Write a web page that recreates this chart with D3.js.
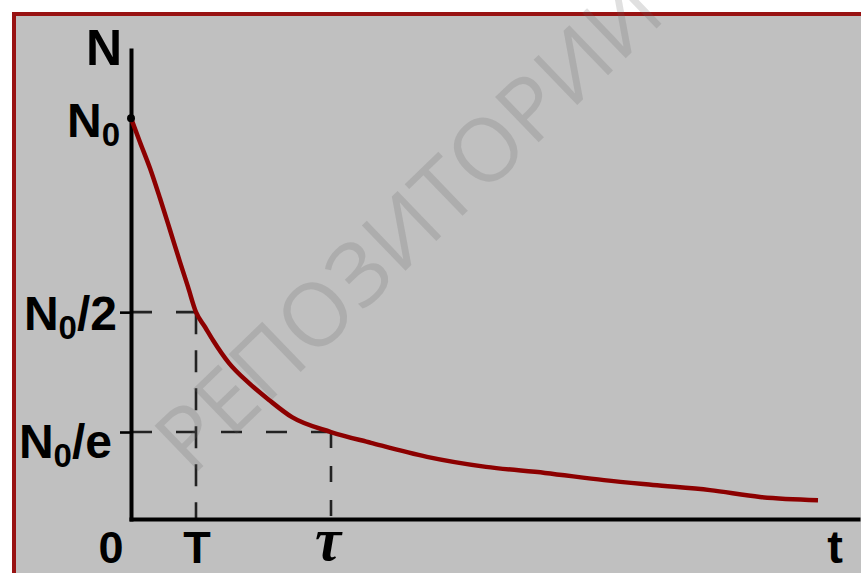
<!DOCTYPE html>
<html><head><meta charset="utf-8">
<script src="https://cdn.jsdelivr.net/npm/d3@7"></script>
<style>html,body{margin:0;padding:0;background:#fff;overflow:hidden}</style>
</head><body>
<svg id="c" width="861" height="573"></svg>
<script>
// ---- data (N in % of N0, t in units of tau) ----
const timeValues  = [0, 0.045, 0.095, 0.145, 0.195, 0.245, 0.285, 0.325, 0.37, 0.41, 0.49, 0.59, 0.69, 0.805, 1.0, 1.2, 1.48, 1.775, 2.07, 2.365, 2.61, 2.895, 3.145, 3.435];
const countValues = [100, 94.0, 87.5, 80.0, 72.1, 64.1, 57.9, 51.6, 47.9, 44.6, 38.9, 33.9, 29.7, 25.4, 21.7, 19.0, 15.5, 13.0, 11.5, 9.7, 8.5, 7.2, 5.5, 4.7];
const yTickValues = [100, 51.6, 21.7];
const yTickLabels = [["N", "0", ""], ["N", "0", "/2"], ["N", "0", "/e"]];
const xTickValues = [0, 0.325, 1.0];
const xTickLabels = ["0", "T", "τ"];
const guideTimes  = [0.325, 1.0];      // T, tau
const guideCounts = [51.6, 21.7];      // N0/2, N0/e
const axisLabels  = ["N", "t"];
const watermarkText = "РЕПОЗИТОРИЙ";

// ---- layout ----
const svg = d3.select("#c");
const x = d3.scaleLinear().domain([0, 3.635]).range([131, 858]);
const y = d3.scaleLinear().domain([0, 117]).range([519, 50]);
const SANS = "Liberation Sans, Arial, sans-serif";

// frame
svg.append("rect").attr("x", 14).attr("y", 14).attr("width", 900).attr("height", 600)
  .attr("fill", "#c0c0c0").attr("stroke", "#981212").attr("stroke-width", 4);

// dashed guides
const dash = svg.append("g").attr("stroke", "#222").attr("stroke-width", 2.6).attr("fill", "none");
guideTimes.forEach((t, i) => {
  dash.append("line").attr("x1", x(0)).attr("x2", x(t))
    .attr("y1", y(guideCounts[i])).attr("y2", y(guideCounts[i]))
    .attr("stroke-dasharray", "21,24");
  dash.append("line").attr("x1", x(t)).attr("x2", x(t))
    .attr("y1", y(guideCounts[i])).attr("y2", y(0))
    .attr("stroke-dasharray", i === 0 ? "22,16" : "16,18");
});

// axes
const yAxis = d3.axisLeft(y).tickValues(yTickValues.slice(1)).tickSize(11).tickSizeOuter(0).tickFormat("");
const gy = svg.append("g").attr("transform", `translate(${x(0)},0)`).call(yAxis);
const xAxis = d3.axisBottom(x).tickValues([]).tickSizeOuter(0);
const gx = svg.append("g").attr("transform", `translate(0,${y(0)})`).call(xAxis);
[gx, gy].forEach(g => {
  g.select(".domain").attr("stroke", "#000").attr("stroke-width", 4).attr("stroke-linecap", "square");
  g.selectAll(".tick line").attr("stroke", "#000").attr("stroke-width", 2.6);
});

// curve
const pts = timeValues.map((t, i) => [t, countValues[i]]);
svg.append("path").datum(pts)
  .attr("fill", "none").attr("stroke", "#8c0000").attr("stroke-width", 4.5)
  .attr("stroke-linejoin", "round")
  .attr("d", d3.line().x(d => x(d[0])).y(d => y(d[1])).curve(d3.curveMonotoneX));

// N0 dot
svg.append("circle").attr("cx", x(0)).attr("cy", y(yTickValues[0])).attr("r", 4).attr("fill", "#000");

// y labels
const yLabelX = [120, 117, 112];
const yLabelDy = [19, 18, 26];
yTickValues.forEach((v, i) => {
  const tx = svg.append("text").attr("x", yLabelX[i]).attr("y", y(v) + yLabelDy[i])
    .attr("text-anchor", "end").attr("font-family", SANS).attr("font-weight", "bold")
    .attr("font-size", 48).attr("fill", "#000");
  const [a, s, b] = yTickLabels[i];
  tx.append("tspan").text(a);
  tx.append("tspan").attr("dy", 9).attr("font-size", 33).text(s);
  if (b) tx.append("tspan").attr("dy", -9).text(b);
});

// x labels
const xLabelOffset = [-20, 1, -3];
xTickValues.forEach((v, i) => {
  const isTau = xTickLabels[i] === "τ";
  const tx = svg.append("text")
    .attr("text-anchor", "middle")
    .attr("font-family", isTau ? "Liberation Serif, Times New Roman, serif" : SANS)
    .attr("font-style", isTau ? "italic" : "normal")
    .attr("font-weight", "bold")
    .attr("font-size", isTau ? 56 : 45).attr("fill", "#000").text(xTickLabels[i]);
  if (isTau) tx.attr("transform", `translate(${x(v) + xLabelOffset[i]},560) scale(1.05,1.1)`);
  else tx.attr("x", x(v) + xLabelOffset[i]).attr("y", 563);
});

// axis titles
svg.append("text").attr("x", 104).attr("y", 65).attr("text-anchor", "middle")
  .attr("font-family", SANS).attr("font-weight", "bold").attr("font-size", 50).text(axisLabels[0]);
svg.append("text").attr("x", 835).attr("y", 563).attr("text-anchor", "middle")
  .attr("font-family", SANS).attr("font-weight", "bold").attr("font-size", 47).text(axisLabels[1]);

// watermark
svg.append("text").attr("transform", "translate(192,477) rotate(-44)")
  .attr("font-family", "Open Sans, Noto Sans, sans-serif").attr("font-weight", 400)
  .attr("font-size", 88).attr("letter-spacing", 0.5)
  .attr("fill", "rgba(100,100,100,0.2)").text(watermarkText);
</script>
</body></html>
